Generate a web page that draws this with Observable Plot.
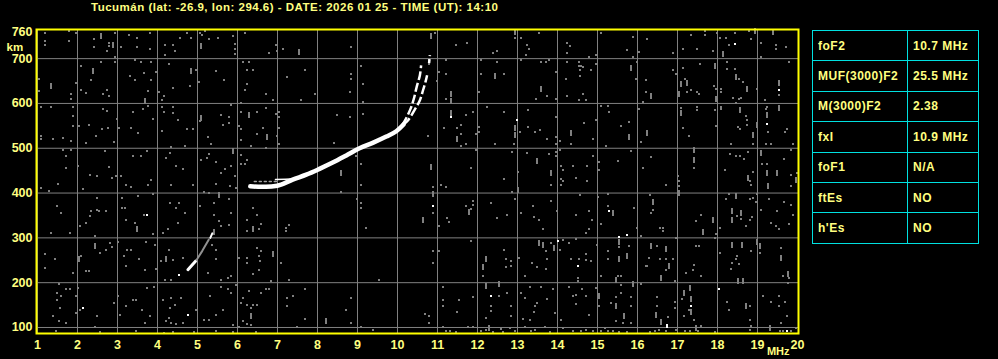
<!DOCTYPE html>
<html><head><meta charset="utf-8">
<script src="https://cdn.jsdelivr.net/npm/d3@7"></script>
<script src="https://cdn.jsdelivr.net/npm/@observablehq/plot@0.6"></script>
<style>
body{margin:0;background:#000;width:998px;height:359px;overflow:hidden;position:relative;font-family:"Liberation Sans",Arial,sans-serif;}
#chart{position:absolute;left:0;top:0;z-index:1;}
#title{position:absolute;left:0;top:0;z-index:2;}
#tbl{position:absolute;left:812px;top:30px;border-collapse:collapse;z-index:2;}
#tbl td{border:1px solid #00e0e0;color:#ffff80;font-weight:bold;font-size:12px;letter-spacing:0.5px;height:29px;padding:0 0 0 5px;box-sizing:border-box;}
</style></head>
<body>
<div id="chart"></div>
<svg id="title" width="998" height="16"><text x="91" y="11" fill="#ffff80" font-family="'Liberation Sans', Arial, sans-serif" font-weight="bold" font-size="11.5" textLength="407" lengthAdjust="spacing">Tucumán (lat: -26.9, lon: 294.6) - DATE: 2026 01 25 - TIME (UT): 14:10</text></svg>
<table id="tbl"></table>
<script>
// ---- data ----
const freqTicks = [1,2,3,4,5,6,7,8,9,10,11,12,13,14,15,16,17,18,19,20];
const heightTicks = [100,200,300,400,500,600,700,760];
const gridHeights = [100,200,300,400,500,600,700];

const tableLabels = ["foF2","MUF(3000)F2","M(3000)F2","fxI","foF1","ftEs","h'Es"];
const tableValues = ["10.7 MHz","25.5 MHz","2.38","10.9 MHz","N/A","NO","NO"];

// main F2 trace (MHz, km)
const traceMain = [[6.32,415],[6.6,414],[6.9,415],[7.09,419],[7.38,430],[7.72,441],[8.05,454],[8.38,468],[8.72,484],[9.05,500],[9.38,512],[9.72,526],[9.97,538],[10.15,553]];
const traceThin = [[6.95,430],[7.2,431],[7.45,432]];
const traceFaint = [[6.42,426],[6.7,426],[6.98,426]];
const branchLeft = [[10.12,552],[10.2,564],[10.33,589],[10.41,611],[10.48,637],[10.56,663],[10.59,685]];
const branchRight = [[10.15,553],[10.26,562],[10.45,589],[10.56,607],[10.64,630],[10.7,648],[10.74,663]];
const branchTip = [[10.79,690],[10.81,708]];
// low-frequency trace fragments
const lowWhite1 = [[4.76,229],[4.86,239],[4.95,248]];
const lowGray = [[4.98,251],[5.12,271],[5.28,296]];
const lowWhite2 = [[5.32,300],[5.37,310]];

// isolated white returns
const whiteDots = [[3.73,350],[2.13,143],[4.53,217],[4.76,129],[10.88,371],[11.34,570],[12.98,563],[14.0,294],[14.51,237],[12.34,171],[18.44,733],[19.53,630],[19.23,555],[15.28,359],[15.53,302],[15.73,306],[18.04,187],[17.34,147],[16.73,106],[16.73,100],[19.73,93]];

// gray noise points
const noiseDots = [
[1.19,757],[1.18,740],[1.18,731],[1.78,762],[1.78,740],[1.95,757],[2.4,743],[2.4,725],[2.78,735],[2.78,728],[2.94,757],[2.74,716],[2.94,704],[3.09,727],[3.28,752],[3.48,745],[3.48,727],[3.8,757],[3.8,721],[4.19,731],[4.19,708],[4.38,731],[4.43,717],[4.55,745],[4.74,757],[4.84,745],[5.07,757],[5.11,752],[5.19,762],[5.28,743],[5.51,745],
[1.03,654],[1.03,628],[1.84,622],[1.84,611],[1.95,645],[2.09,684],[2.09,630],[2.2,624],[2.34,652],[2.59,692],[2.63,620],[2.74,630],[2.78,617],[2.94,692],[3.3,661],[3.44,697],[3.44,652],[3.59,692],[3.65,669],[3.84,692],[3.84,652],[3.77,628],[3.97,670],[4.03,625],[4.17,617],[4.12,608],[4.28,687],[4.38,635],[4.8,639],[4.95,674],[5.03,648],[5.45,672],[5.65,652],
[1.09,593],[1.34,591],[1.09,527],[1.09,520],[1.38,520],[1.63,523],[1.84,516],[1.88,591],[1.88,572],[1.88,550],[2.03,550],[2.28,553],[2.2,512],[2.45,527],[2.62,542],[2.76,545],[2.73,583],[2.63,588],[2.98,566],[2.9,514],[3.03,545],[3.38,581],[3.34,545],[3.51,535],[3.63,587],[3.76,594],[3.88,566],[4.12,591],[4.17,581],[4.38,593],[4.38,579],[4.51,563],[4.73,544],[4.88,542],[4.12,538],[4.34,503],[4.68,506],[5.05,561],[5.26,526],[5.34,509],[5.63,553],[5.59,575],
[1.09,412],[1.28,404],[1.51,421],[1.63,497],[1.7,482],[1.7,456],[1.84,497],[2.01,460],[2.3,441],[2.48,438],[2.68,494],[2.78,459],[2.87,434],[2.97,438],[3.09,438],[3.2,419],[3.33,413],[3.38,482],[3.59,482],[3.73,494],[3.84,430],[3.76,419],[4.3,490],[4.2,479],[4.45,460],[4.34,418],[4.63,453],[4.88,419],[5.09,474],[5.23,479],[5.28,487],[5.47,469],[5.45,421],[5.59,444],[5.68,453],
[1.48,372],[1.59,356],[1.34,311],[1.8,311],[2.05,326],[2.13,408],[2.2,333],[2.3,348],[2.34,360],[2.48,389],[2.48,363],[2.53,360],[2.7,360],[2.43,305],[3.1,389],[3.12,367],[3.18,367],[3.2,341],[3.43,333],[3.52,393],[3.67,352],[3.88,397],[3.88,308],[4.13,311],[4.26,319],[4.3,378],[4.45,367],[4.53,378],[4.51,333],[4.68,356],[5.05,372],[5.17,403],[5.28,400],[5.42,378],[5.42,352],[5.53,337],[5.59,326],
[1.18,265],[1.43,252],[1.18,233],[1.88,222],[2.09,259],[2.2,225],[2.28,225],[2.55,266],[2.7,274],[2.87,280],[2.82,289],[3.0,290],[3.15,259],[3.23,274],[3.34,274],[3.22,237],[3.53,252],[3.72,290],[3.93,285],[3.68,229],[3.95,230],[4.09,248],[4.38,250],[4.28,274],[4.63,255],[4.18,207],[4.34,205],[5.47,274],[5.47,252],[5.37,285],[5.26,222],[5.59,205],
[1.53,196],[1.48,176],[1.48,161],[1.59,170],[1.7,185],[1.8,186],[1.95,170],[2.01,188],[1.95,132],[1.57,143],[1.38,125],[1.72,110],[1.53,114],[2.05,140],[2.48,125],[2.43,102],[3.0,170],[2.92,155],[3.05,129],[3.2,147],[3.38,162],[3.46,162],[3.61,140],[3.73,188],[3.92,190],[3.68,110],[3.82,125],[4.13,162],[4.34,166],[4.59,166],[4.43,151],[4.3,143],[4.28,121],[4.22,114],[4.34,110],[4.47,108],[4.63,110],[4.95,140],[5.3,171],[5.47,129],[5.59,190],[5.63,140],[5.17,117],[5.28,116],
[1.47,92],[2.55,90],[3.47,92],[4.17,88],[4.38,90],[4.9,90],[5.47,92],
[5.88,751],[5.93,732],[5.93,721],[5.93,710],[6.18,757],[6.95,730],[6.98,717],[6.78,712],[7.13,721],[8.84,727],
[6.13,692],[6.28,692],[6.23,675],[6.38,675],[6.23,643],[6.19,629],[6.7,620],[6.88,608],[7.24,659],[7.68,675],[7.93,620],[7.59,608],[8.84,665],[8.84,655],[8.8,626],[9.09,684],[9.13,643],[9.13,603],
[5.84,596],[5.78,570],[5.78,557],[6.09,602],[6.09,581],[6.03,550],[6.09,542],[6.48,581],[6.7,589],[6.63,545],[6.48,531],[6.95,576],[7.03,570],[7.03,580],[7.03,545],[6.98,528],[7.03,509],[6.7,500],[6.34,505],[6.09,518],[8.48,574],[8.8,570],[9.13,576],[8.42,512],
[5.84,460],[5.93,438],[5.8,415],[6.09,485],[6.09,464],[6.18,464],[6.23,474],[5.97,412],[8.59,402],[9.09,464],[9.09,417],[8.97,482],
[5.78,386],[5.84,356],[5.78,328],[6.38,367],[6.48,350],[6.59,332],[6.53,320],[6.23,341],[6.23,315],[7.2,323],[7.28,328],[7.2,315],[8.98,386],[9.09,377],[9.09,367],[9.2,323],
[6.48,278],[6.59,271],[6.53,259],[6.55,248],[6.23,255],[6.03,255],[6.23,244],[6.38,220],[6.53,229],[7.09,243],[5.76,210],[5.84,215],[6.84,203],[7.28,207],[9.53,207],
[5.97,194],[5.76,185],[5.84,176],[6.28,181],[6.72,186],[6.78,186],[6.59,176],[6.13,166],[6.09,155],[6.23,151],[6.38,151],[6.48,151],[6.34,143],[6.13,114],[6.23,108],[6.34,106],[5.88,106],[6.03,102],[7.24,166],[7.38,171],[7.24,147],[7.69,185],[7.69,120],[7.48,102],[8.84,166],[8.7,138],[8.84,110],[9.09,102],
[5.88,90],[6.45,90],[9.38,94],
[10.94,757],[11.45,731],[11.73,734],[12.38,712],[12.49,717],[12.49,693],[12.94,745],[13.09,745],[13.23,731],[13.28,721],[13.2,708],[13.53,757],[14.24,734],[14.3,728],[14.23,713],[14.78,704],[14.95,707],[15.09,757],
[11.03,670],[10.98,650],[11.2,697],[11.2,665],[11.2,609],[12.09,697],[12.09,665],[12.03,625],[12.65,665],[13.09,697],[13.59,692],[13.7,692],[13.78,697],[13.46,611],[13.73,617],[13.95,670],[13.95,609],[14.24,692],[14.2,655],[14.24,617],[14.53,692],[14.53,684],[14.59,683],[14.55,675],[14.55,661],[14.63,681],[14.84,675],[14.95,687],[14.63,620],[14.7,608],[14.53,608],
[11.15,546],[10.76,527],[11.48,546],[11.59,553],[11.59,531],[11.59,505],[11.7,574],[11.7,509],[11.88,581],[11.95,531],[12.03,548],[12.03,536],[12.23,593],[12.43,509],[12.65,581],[12.9,509],[13.07,536],[13.26,585],[13.26,548],[13.43,536],[13.55,541],[13.73,521],[13.95,570],[13.95,526],[13.97,509],[14.07,516],[14.34,509],[14.65,557],[14.88,521],[14.95,564],[15.09,594],[15.22,506],
[10.88,414],[11.09,417],[11.2,414],[11.84,456],[11.95,496],[12.65,432],[12.86,492],[13.0,447],[13.23,490],[13.84,419],[13.78,487],[13.95,492],[13.95,482],[14.05,496],[14.09,460],[14.13,451],[14.09,431],[14.13,426],[14.09,419],[14.38,461],[14.45,434],[14.73,460],[14.73,428],[14.88,482],[15.03,469],[15.03,451],[12.86,402],
[10.88,356],[11.03,326],[11.23,344],[11.28,335],[11.7,372],[11.84,365],[11.88,382],[11.88,374],[12.34,377],[12.48,345],[12.73,350],[12.94,386],[13.09,356],[13.38,372],[13.4,346],[13.53,341],[13.63,319],[13.84,382],[13.98,360],[14.45,350],[14.78,360],[14.87,341],[14.78,320],[14.7,311],[15.09,332],[15.01,391],[14.55,396],
[11.84,293],[10.88,270],[11.03,270],[10.88,244],[12.13,216],[12.65,274],[12.7,253],[12.7,235],[12.84,248],[12.84,237],[13.03,255],[13.18,216],[13.37,244],[13.48,235],[13.7,270],[13.73,253],[13.72,231],[13.84,288],[14.05,274],[14.13,296],[14.28,288],[14.45,298],[14.34,253],[14.53,252],[14.7,265],[14.7,250],[14.84,248],[14.98,285],[14.5,210],[14.5,203],[15.09,214],
[11.13,191],[11.13,162],[11.13,147],[11.53,162],[11.88,169],[11.48,134],[12.53,171],[12.34,147],[12.34,136],[12.22,121],[12.73,177],[12.84,147],[12.84,126],[13.09,177],[13.18,166],[13.3,191],[13.59,191],[13.88,186],[13.73,164],[13.48,155],[13.43,147],[13.4,134],[13.13,119],[13.3,116],[13.93,132],[14.09,116],[14.28,191],[14.38,171],[14.45,153],[14.47,173],[14.62,185],[14.7,170],[14.78,129],[14.97,189],[15.03,147],[10.68,130],[10.78,125],[10.78,110],
[11.13,101],[11.22,92],[11.3,92],[11.47,90],[11.76,102],[11.88,101],[12.09,92],[12.22,95],[12.38,90],[12.59,97],[12.64,90],[12.8,99],[12.93,92],[13.18,101],[13.34,92],[13.43,95],[13.68,102],[13.8,90],[14.13,99],[14.38,92],[14.59,92],[14.72,95],[14.88,92],[15.09,92],[15.18,99],
[15.88,749],[16.23,743],[15.74,719],[16.03,715],[15.88,704],[16.88,712],[17.13,721],[17.34,752],[17.48,721],[17.69,762],[17.69,752],[17.88,717],[17.98,757],[18.05,745],[18.2,747],[18.28,731],[18.44,757],[18.78,762],[18.84,743],[19.09,734],[19.09,704],[19.45,731],[19.45,721],[19.7,725],
[15.95,655],[15.98,692],[16.2,652],[16.2,625],[16.13,603],[16.88,675],[16.95,665],[17.13,678],[17.19,654],[17.23,625],[17.34,631],[17.48,625],[17.53,620],[17.55,687],[17.9,638],[17.95,633],[18.09,633],[18.09,625],[18.23,692],[18.23,676],[18.43,676],[18.53,655],[18.63,648],[18.38,612],[18.53,609],[18.59,613],[18.98,633],[19.53,618],[19.78,692],[19.18,608],
[15.26,594],[15.28,581],[15.59,550],[15.78,559],[16.03,587],[16.09,514],[17.09,589],[17.48,593],[17.48,585],[17.93,585],[17.13,545],[17.28,527],[17.95,550],[18.09,593],[18.09,587],[18.34,509],[18.45,600],[18.7,572],[18.5,548],[18.55,542],[18.73,563],[18.73,551],[18.88,509],[19.23,593],[19.2,587],[19.25,536],[19.22,509],[19.34,509],[19.73,542],[19.68,536],[19.88,509],
[15.51,472],[15.84,493],[16.13,455],[16.34,480],[16.7,417],[17.01,438],[17.03,426],[17.03,415],[17.42,455],[18.18,452],[18.3,487],[18.47,483],[18.57,483],[18.65,477],[18.75,492],[18.88,447],[18.82,428],[18.83,417],[19.1,464],[19.23,464],[19.65,475],[19.84,496],[19.84,440],[19.84,415],[19.99,445],
[15.26,397],[15.26,372],[15.92,367],[16.3,395],[16.38,363],[16.34,356],[16.55,323],[16.63,323],[16.63,315],[16.09,305],[15.98,323],[16.97,300],[17.45,337],[17.59,350],[17.95,308],[17.93,300],[18.05,323],[18.2,386],[18.28,397],[18.48,348],[18.59,343],[18.7,326],[18.82,341],[18.87,346],[18.88,388],[18.95,379],[18.82,386],[18.98,397],[19.09,363],[19.28,386],[19.34,333],[19.45,326],[19.53,319],[19.48,360],[19.65,380],[19.84,374],[19.88,352],[19.78,330],
[15.53,279],[15.78,282],[15.26,270],[15.26,252],[15.59,216],[15.51,216],[16.48,282],[16.28,255],[16.23,238],[16.2,238],[16.55,252],[16.7,252],[16.88,252],[16.72,229],[16.93,203],[17.22,222],[17.38,229],[17.42,240],[17.45,282],[17.53,282],[17.59,216],[18.05,266],[18.48,259],[18.45,252],[18.37,243],[18.53,241],[18.33,231],[18.83,270],[19.07,266],[19.59,278],[19.63,216],[19.78,210],[19.76,199],
[15.59,194],[16.09,196],[15.34,155],[15.45,169],[15.59,177],[15.84,169],[15.84,147],[15.45,114],[15.64,110],[15.84,111],[16.48,169],[16.48,147],[16.76,123],[16.93,157],[16.93,144],[17.12,164],[17.28,140],[17.42,117],[17.59,104],[17.15,126],[18.23,157],[18.28,140],[18.82,149],[18.82,116],[18.84,104],[19.13,170],[19.34,157],[19.53,171],[19.53,149],[19.68,157],[19.73,125],[19.59,110],
[15.26,92],[15.38,92],[15.53,90],[15.73,90],[16.3,90],[16.43,92],[16.53,95],[16.7,92],[16.97,95],[17.18,92],[17.3,93],[17.51,92],[17.93,90],[18.8,95],[19.55,92],[19.63,92],[19.84,92],[19.95,99]
];

// taller gray noise streaks
const noiseStreaks = [
[2.59,750],[2.88,730],[5.09,728],[1.34,638],[2.38,672],[3.69,605],[4.84,672],[5.09,568],[5.53,396],[5.4,313],[3.48,319],[2.03,252],[2.43,281],[4.22,252],
[7.53,715],[6.28,574],[6.73,526],[5.88,494],[6.38,320],[6.88,263],[6.34,126],[8.2,115],[8.59,444],
[10.84,751],[12.94,760],[10.78,692],[11.34,620],[11.34,605],[12.43,661],[13.59,633],[11.34,579],[11.48,520],[12.94,545],[12.94,530],[14.34,535],[10.84,459],[10.88,397],[13.48,471],[13.84,444],[13.0,406],[10.63,341],[11.78,357],[12.2,252],[12.13,235],[13.53,289],[13.63,284],[13.92,277],[12.2,192],[12.53,196],[15.03,170],[12.28,98],
[18.13,710],[18.94,762],[19.38,760],[15.84,680],[16.34,617],[17.03,620],[17.09,643],[17.23,645],[17.93,683],[17.95,611],[18.45,659],[18.73,633],[19.53,646],[15.78,524],[16.23,535],[17.09,578],[18.55,585],[18.88,529],[18.98,551],[19.23,575],[19.53,589],[17.03,400],[17.42,496],[17.42,474],[18.77,434],[19.09,490],[19.23,445],[19.48,444],[19.25,415],[19.95,430],[15.38,356],[16.38,379],[17.63,313],[17.88,341],[18.45,393],[18.37,360],[18.37,341],[18.59,356],[15.53,291],[15.53,252],[15.73,259],[15.46,207],[16.34,281],[16.7,275],[16.78,238],[16.59,210],[18.37,284],[18.62,284],[18.5,203],[18.63,203],[18.98,291],[19.07,282],[19.59,255],[19.76,220],[15.88,196],[15.45,149],[15.66,126],[16.47,129],[16.59,112],[17.15,178],[17.32,188],[17.34,164],[17.34,134],[17.47,99],[18.7,149],[19.32,99]
];

// ---- drawing ----
const pix = {draw(ctx){ ctx.rect(-1,-1,2,2); }};
const pixTall = {draw(ctx){ ctx.rect(-1,-3,2,6); }};
const X = d => d[0], Y = d => d[1];
const yellow = "#ffff80";

const chart = Plot.plot({
  width: 800, height: 359,
  marginLeft: 36, marginRight: 2, marginTop: 29, marginBottom: 26,
  x: {domain: [0.975, 20.025]},
  y: {domain: [86.6, 765]},
  style: {background: "#000", color: yellow, fontFamily: "'Liberation Sans', Arial, sans-serif", fontSize: "12px", fontWeight: "bold", overflow: "visible"},
  marks: [
    Plot.gridX(freqTicks.slice(0, 19), {stroke: "#808080", strokeOpacity: 1, strokeWidth: 1}),
    Plot.gridY(gridHeights, {stroke: "#808080", strokeOpacity: 1, strokeWidth: 1}),
    Plot.dot(noiseDots, {x: X, y: Y, symbol: pix, fill: "#808080", stroke: "none", shapeRendering: "crispEdges"}),
    Plot.dot(noiseStreaks, {x: X, y: Y, symbol: pixTall, fill: "#808080", stroke: "none", shapeRendering: "crispEdges"}),
    Plot.line(traceFaint, {x: X, y: Y, stroke: "#a0a0a0", strokeWidth: 1.5, strokeDasharray: "2,3"}),
    Plot.line(traceThin, {x: X, y: Y, stroke: "#fff", strokeWidth: 1.5}),
    Plot.line(traceMain, {x: X, y: Y, stroke: "#fff", strokeWidth: 4.5, curve: "catmull-rom"}),
    Plot.line(branchLeft, {x: X, y: Y, stroke: "#fff", strokeWidth: 2.5, curve: "catmull-rom", strokeDasharray: "9,3", strokeLinecap: "butt"}),
    Plot.line(branchRight, {x: X, y: Y, stroke: "#fff", strokeWidth: 2.5, curve: "catmull-rom", strokeDasharray: "9,3", strokeLinecap: "butt"}),
    Plot.line(branchTip, {x: X, y: Y, stroke: "#fff", strokeWidth: 2.5, strokeDasharray: "4,3", strokeLinecap: "butt"}),
    Plot.line(lowWhite1, {x: X, y: Y, stroke: "#fff", strokeWidth: 3}),
    Plot.line(lowGray, {x: X, y: Y, stroke: "#909090", strokeWidth: 2}),
    Plot.line(lowWhite2, {x: X, y: Y, stroke: "#fff", strokeWidth: 2}),
    Plot.dot(whiteDots, {x: X, y: Y, symbol: pix, fill: "#fff", stroke: "none", shapeRendering: "crispEdges"}),
    Plot.frame({stroke: "#ffff00", strokeWidth: 2}),
    Plot.axisX(freqTicks, {tickSize: 0, tickPadding: 7, fill: yellow, fontSize: 12.5, fontWeight: "bold", label: null}),
    Plot.axisY(heightTicks, {tickSize: 0, tickPadding: 4, fill: yellow, fontSize: 12.5, fontWeight: "bold", label: null}),
    Plot.text(["km"], {frameAnchor: "top-left", textAnchor: "start", dx: -30, dy: 13, fill: yellow, fontSize: 11.5, fontWeight: "bold"}),
    Plot.text(["MHz"], {frameAnchor: "bottom-right", textAnchor: "end", dx: -9, dy: 21, fill: yellow, fontSize: 11, fontWeight: "bold"})
  ]
});
document.getElementById("chart").append(chart);

const tbl = document.getElementById("tbl");
tableLabels.forEach((lab, i) => {
  const tr = document.createElement("tr");
  const a = document.createElement("td"); a.textContent = lab; a.style.width = "95px";
  const b = document.createElement("td"); b.textContent = tableValues[i]; b.style.width = "71px";
  tr.style.height = "30.4px";
  tr.append(a, b); tbl.append(tr);
});
</script>
</body></html>
